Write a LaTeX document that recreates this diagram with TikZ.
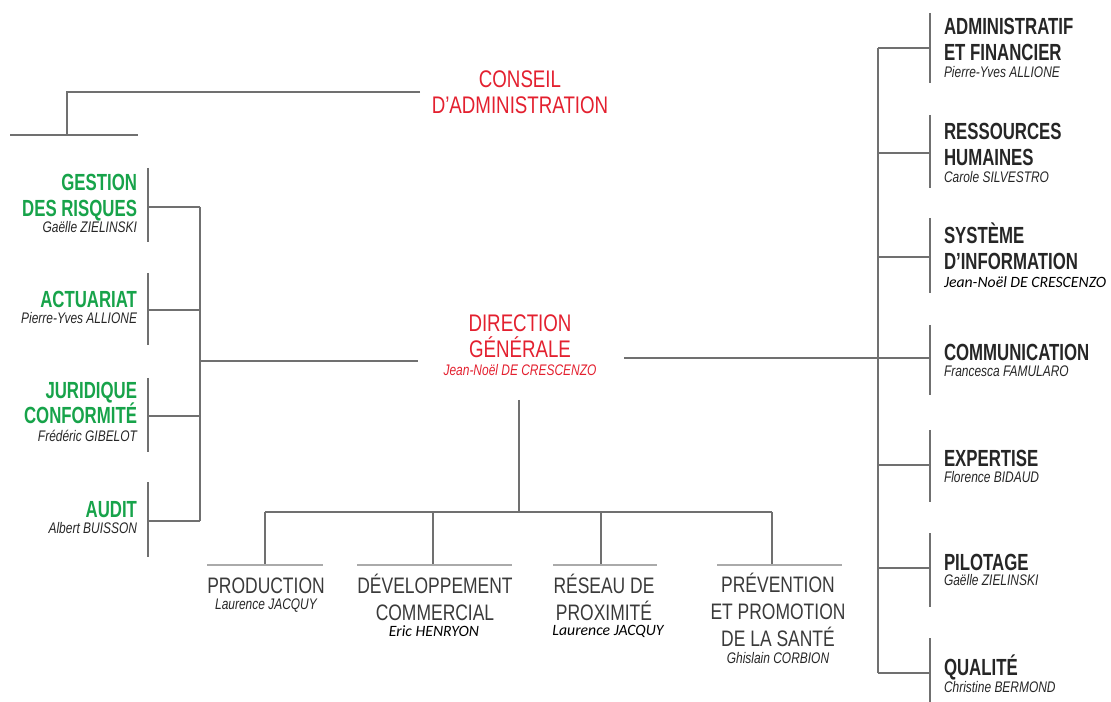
\documentclass[tikz,border=0pt]{standalone}
\usepackage{fontspec}
\setmainfont{Liberation Sans}
\newfontfamily\fcond[FakeStretch=0.78]{Liberation Sans}
\newfontfamily\fcondb[FakeStretch=0.72]{Liberation Sans}
\newfontfamily\fcal{Carlito}
\definecolor{dgred}{HTML}{E3202F}
\definecolor{dggreen}{HTML}{17A34A}
\definecolor{dtxt}{HTML}{262626}
\definecolor{btxt}{HTML}{3A3A3A}
\definecolor{ln}{HTML}{707070}
\definecolor{lnl}{HTML}{AAAAAA}
\tikzset{
  every node/.style={inner sep=0pt, outer sep=0pt},
  redtitle/.style={text=dgred, align=center, font=\fcond\fontsize{18}{20}\selectfont},
  redname/.style={text=dgred, font=\fcond\itshape\fontsize{11.5}{13}\selectfont},
  greentitle/.style={text=dggreen, align=right, font=\fcondb\bfseries\fontsize{17.5}{19.5}\selectfont},
  blacktitle/.style={text=dtxt, align=left, font=\fcondb\bfseries\fontsize{17.5}{19.5}\selectfont},
  bottitle/.style={text=btxt, align=center, font=\fcond\fontsize{16.8}{20}\selectfont},
  pname/.style={text=dtxt, font=\fcond\itshape\fontsize{11.5}{13}\selectfont},
  cname/.style={text=black, font=\fcal\itshape\fontsize{11.8}{13}\selectfont},
  conn/.style={draw=ln, line width=1pt},
  sep/.style={draw=ln, line width=1pt},
  lsep/.style={draw=lnl, line width=1pt}
}
\begin{document}
\begin{tikzpicture}[x=0.75pt,y=-0.75pt]
\useasboundingbox (0,0) rectangle (1111,702);
% ---------- top
\node[redtitle, anchor=base] (ca) at (520,114) {CONSEIL\\D’ADMINISTRATION};
\coordinate (caL) at (420,92);
\coordinate (caK) at (67,92);
\coordinate (caB) at (67,135);
\coordinate (tl1) at (10,135);
\coordinate (tl2) at (138,135);
\draw[conn] (caL) -- (caK) -- (caB);
\draw[sep] (tl1) -- (tl2);
% ---------- direction generale
\node[redtitle, anchor=base] (dg) at (520,358) {DIRECTION\\GÉNÉRALE};
\node[redname, anchor=base] (dgn) at (520,376) {Jean-Noël DE CRESCENZO};
% ---------- left column
\node[greentitle, anchor=base east] (gr) at (137,217) {GESTION\\DES RISQUES};
\node[pname, anchor=base east] (grn) at (137,233) {Gaëlle ZIELINSKI};
\node[greentitle, anchor=base east] (act) at (137,308) {ACTUARIAT};
\node[pname, anchor=base east] (actn) at (137,324) {Pierre-Yves ALLIONE};
\node[greentitle, anchor=base east] (jur) at (137,424) {JURIDIQUE\\CONFORMITÉ};
\node[pname, anchor=base east] (jurn) at (137,441) {Frédéric GIBELOT};
\node[greentitle, anchor=base east] (aud) at (137,517) {AUDIT};
\node[pname, anchor=base east] (audn) at (137,533) {Albert BUISSON};
\foreach \a/\b in {168/242,273/345,378/452,482/557}
  \draw[sep] (148,\a) -- (148,\b);
\coordinate (lb1) at (200,207);
\coordinate (lb2) at (200,310);
\coordinate (lb3) at (200,416);
\coordinate (lb4) at (200,521);
\coordinate (lbm) at (200,361);
\coordinate (dgL) at (418,361);
\foreach \c/\y in {lb1/207,lb2/310,lb3/416,lb4/521}
  \draw[conn] (148,\y) -- (\c);
\draw[conn] (lb1) -- (lb4);
\draw[conn] (lbm) -- (dgL);
% ---------- right column
\node[blacktitle, anchor=base west] (af) at (944,61) {ADMINISTRATIF\\ET FINANCIER};
\node[pname, anchor=base west] (afn) at (944,78) {Pierre-Yves ALLIONE};
\node[blacktitle, anchor=base west] (rh) at (944,166) {RESSOURCES\\HUMAINES};
\node[pname, anchor=base west] (rhn) at (944,183) {Carole SILVESTRO};
\node[blacktitle, anchor=base west] (si) at (944,270) {SYSTÈME\\D’INFORMATION};
\node[cname, anchor=base west] (sin) at (944,288) {Jean-Noël DE CRESCENZO};
\node[blacktitle, anchor=base west] (com) at (944,361) {COMMUNICATION};
\node[pname, anchor=base west] (comn) at (944,377) {Francesca FAMULARO};
\node[blacktitle, anchor=base west] (exp) at (944,466) {EXPERTISE};
\node[pname, anchor=base west] (expn) at (944,482) {Florence BIDAUD};
\node[blacktitle, anchor=base west] (pil) at (944,570) {PILOTAGE};
\node[pname, anchor=base west] (piln) at (944,585) {Gaëlle ZIELINSKI};
\node[blacktitle, anchor=base west] (qua) at (944,675) {QUALITÉ};
\node[pname, anchor=base west] (quan) at (944,692) {Christine BERMOND};
\foreach \a/\b in {13/83,115/188,218/293,325/395,430/502,533/607,638/702}
  \draw[sep] (930,\a) -- (930,\b);
\coordinate (rb1) at (878,48);
\coordinate (rb7) at (878,673);
\coordinate (dgR) at (624,358);
\coordinate (rcom) at (930,358);
\draw[conn] (rb1) -- (rb7);
\foreach \y in {48,153,257,465,568,673}
  \draw[conn] (878,\y) -- (930,\y);
\draw[conn] (dgR) -- (rcom);
% ---------- bottom
\coordinate (dgB) at (519,400);
\coordinate (bj) at (519,512);
\draw[conn] (dgB) -- (bj);
\draw[conn] (265,512) -- (772,512);
\foreach \x in {265,433,601,772}
  \draw[conn] (\x,512) -- (\x,565);
\foreach \a/\b in {207/323,357/512,553/657,717/842}
  \draw[lsep] (\a,565) -- (\b,565);
\node[bottitle, anchor=base] (prod) at (266,593) {PRODUCTION};
\node[pname, anchor=base] (prodn) at (266,609) {Laurence JACQUY};
\node[bottitle, anchor=base] (dev) at (435,620) {DÉVELOPPEMENT\\COMMERCIAL};
\node[cname, anchor=base] (devn) at (434,636) {Eric HENRYON};
\node[bottitle, anchor=base] (res) at (604,620) {RÉSEAU DE\\PROXIMITÉ};
\node[cname, anchor=base] (resn) at (608,635) {Laurence JACQUY};
\node[bottitle, anchor=base] (prev) at (778,646) {PRÉVENTION\\ET PROMOTION\\DE LA SANTÉ};
\node[pname, anchor=base] (prevn) at (778,663) {Ghislain CORBION};
\end{tikzpicture}
\end{document}
